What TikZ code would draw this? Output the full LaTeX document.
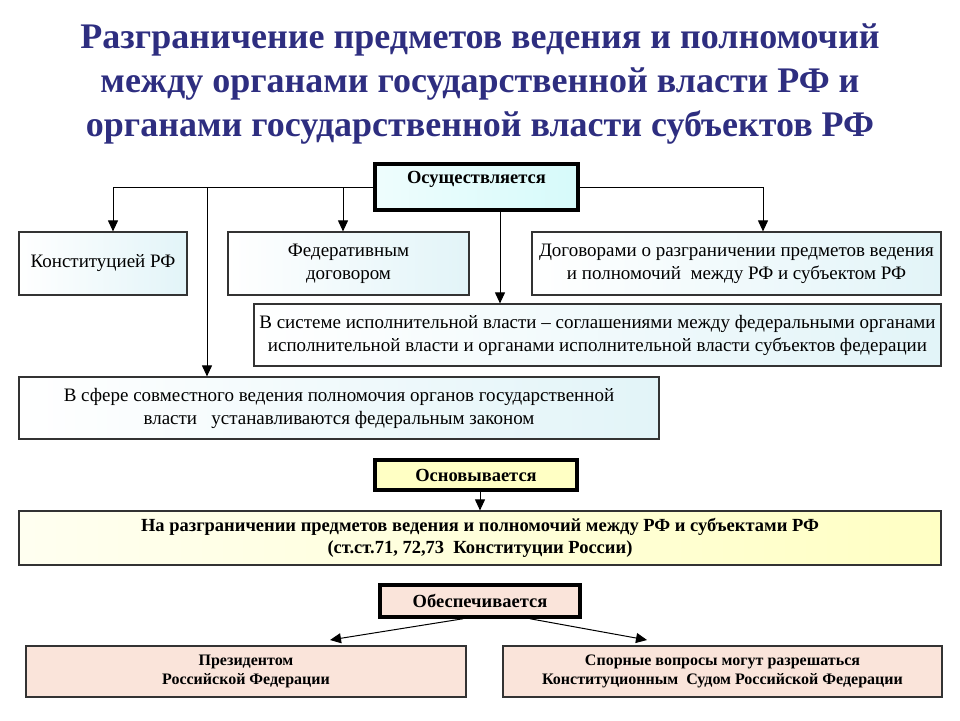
\documentclass[tikz,border=0pt]{standalone}
\usepackage{fontspec}
\setmainfont{Liberation Serif}
\usetikzlibrary{arrows.meta}
\definecolor{titleblue}{RGB}{46,46,128}
\definecolor{cyanbox}{RGB}{214,250,250}
\definecolor{bluebox}{RGB}{226,244,248}
\definecolor{yellowbox}{RGB}{255,255,196}
\definecolor{pinkbox}{RGB}{250,228,218}
\begin{document}
\begin{tikzpicture}[
        x=1pt, y=-1pt,
        header/.style={rectangle, draw=black, line width=3.5pt, inner sep=3pt, align=center, font=\fontsize{18.5}{21}\selectfont\bfseries},
        box/.style={rectangle, draw=black!80, line width=1.2pt, align=center, inner sep=3pt, left color=white, right color=bluebox, font=\fontsize{19}{23}\selectfont},
        basebox/.style={rectangle, draw=black!80, line width=1.2pt, align=center, left color=yellowbox!25, right color=yellowbox, font=\fontsize{18.5}{22}\selectfont\bfseries},
        pinkbox/.style={rectangle, draw=black!80, line width=1.2pt, align=center, fill=pinkbox, font=\fontsize{16}{18.5}\selectfont\bfseries},
        arrow/.style={-{Triangle[length=11pt,width=10pt]}, line width=1pt}
    ]
        \useasboundingbox (0,0) rectangle (960,720);

        % Title
        \node[text=titleblue, align=center, font=\fontsize{36}{44}\selectfont\bfseries] (title) at (480,84)
            {Разграничение предметов ведения и полномочий\\ между органами государственной власти РФ и\\ органами государственной власти субъектов РФ};

        % Осуществляется
        \node[header, left color=cyanbox!40, right color=cyanbox, minimum width=203pt, text height=16pt, text depth=24pt] (osush) at (476.5,187) {Осуществляется};

        \node[box, minimum width=168pt, minimum height=63pt] (konst) at (103,263.5) {Конституцией РФ};
        \node[box, minimum width=241pt, minimum height=63pt] (fed) at (348.5,263.5) {Федеративным\\ договором};
        \node[box, minimum width=409pt, minimum height=63pt] (dogov) at (736.5,263.5) {Договорами о разграничении предметов ведения\\ и полномочий~ между РФ и субъектом РФ};
        \node[box, minimum width=687pt, minimum height=62pt] (sistema) at (597.5,335) {В системе исполнительной власти -- соглашениями между федеральными органами\\ исполнительной власти и органами исполнительной власти субъектов федерации};
        \node[box, minimum width=640pt, minimum height=62pt] (sfera) at (339,408) {В сфере совместного ведения полномочия органов государственной\\ власти~~ устанавливаются федеральным законом};

        \draw[arrow] (osush.west) -| ([xshift=10pt]konst.north);
        \draw[arrow] (osush.west) -| ([xshift=-5.5pt]fed.north);
        \draw[arrow] (osush.west) -| ([xshift=-132pt]sfera.north);
        \draw[arrow] (osush.east) -| ([xshift=26.5pt]dogov.north);
        \draw[arrow] ([xshift=23.5pt]osush.south) -- ([xshift=23.5pt]osush.south |- sistema.north);

        % Основывается
        \node[header, fill=yellowbox, minimum width=202pt, minimum height=30pt] (osnov) at (476,475) {Основывается};
        \node[basebox, minimum width=922pt, minimum height=54pt] (base) at (480,538) {На разграничении предметов ведения и полномочий между РФ и субъектами РФ\\ (ст.ст.71, 72,73~ Конституции России)};
        \draw[arrow] ([xshift=4pt]osnov.south) -- ([xshift=4pt]osnov.south |- base.north);

        % Обеспечивается
        \node[header, fill=pinkbox, minimum width=200pt, minimum height=32pt] (obesp) at (480,601) {Обеспечивается};
        \node[pinkbox, minimum width=440pt, minimum height=51pt] (prez) at (246,671.5) {Президентом\\ Российской Федерации};
        \node[pinkbox, minimum width=439pt, minimum height=51pt] (spor) at (722.5,671.5) {Спорные вопросы могут разрешаться\\ Конституционным~ Судом Российской Федерации};
        \coordinate (prezin) at (330,640);
        \coordinate (sporin) at (647,640);
        \draw[arrow] ([xshift=-17pt]obesp.south) -- (prezin);
        \draw[arrow] ([xshift=50pt]obesp.south) -- (sporin);

    \end{tikzpicture}
\end{document}
